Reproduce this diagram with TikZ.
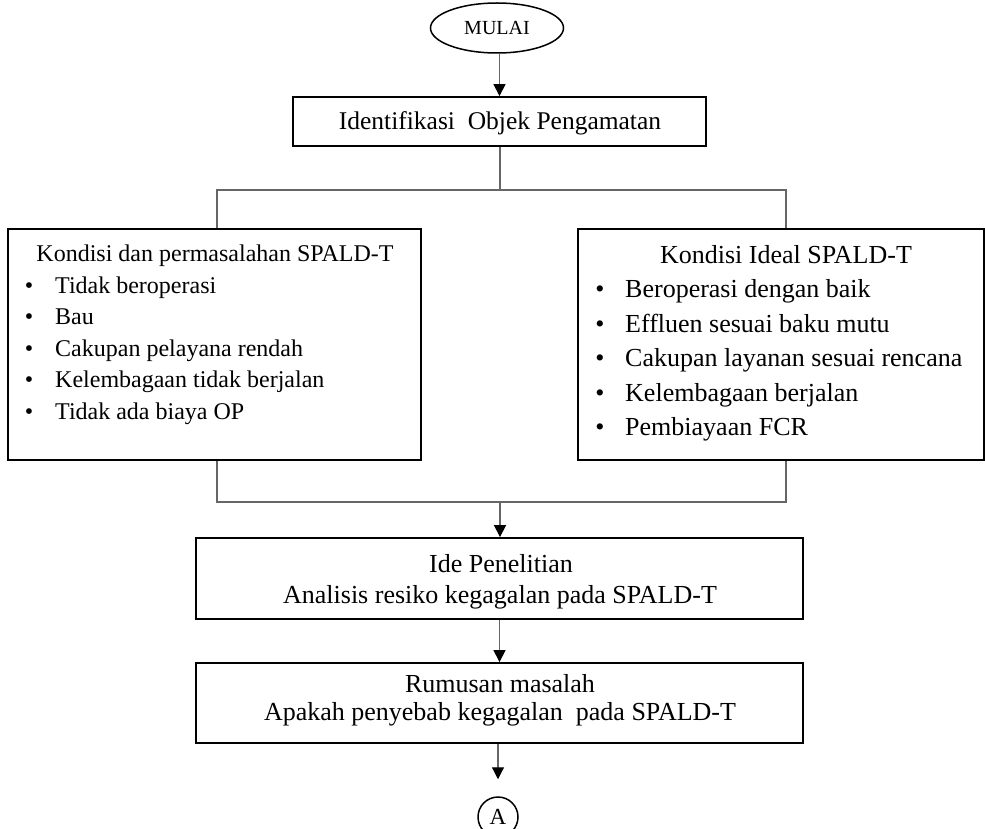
\documentclass[tikz,border=0pt]{standalone}
\usepackage{fontspec}
\setmainfont{Liberation Serif}
\usetikzlibrary{shapes.geometric,arrows.meta}
\newcommand\fsz[2]{\fontsize{#1}{#2}\selectfont}
\tikzset{
  box/.style={draw=black, line width=1.8pt, rectangle, inner sep=0pt},
  conn/.style={draw=black!60, line width=1.2pt},
  arr/.style={conn, -{Triangle[width=12pt,length=12pt,color=black]}},
  txt/.style={inner sep=0pt, anchor=base},
  ltxt/.style={inner sep=0pt, anchor=base west},
}
\begin{document}
\begin{tikzpicture}[x=1pt,y=-1pt]
\useasboundingbox (0,0) rectangle (985,829);

% nodes
\node[ellipse, draw=black, line width=1.5pt, minimum width=133pt, minimum height=50pt, inner sep=0pt, font=\fsz{20}{23}] (mulai) at (497,28) {MULAI};
\node[box, minimum width=413pt, minimum height=49pt] (ident) at (499.5,121.5) {};
\node[txt, font=\fsz{25.5}{30}] (identt) at (500,130) {Identifikasi\ \ Objek Pengamatan};

\node[box, minimum width=413pt, minimum height=231pt] (left) at (214.5,344.5) {};
\node[box, minimum width=406pt, minimum height=231pt] (right) at (781,344.5) {};

\node[box, minimum width=607pt, minimum height=81pt] (ide) at (499.5,578.5) {};
\node[box, minimum width=607pt, minimum height=80pt] (rum) at (499.5,703) {};
\node[circle, draw=black, line width=1.5pt, minimum size=40pt, inner sep=0pt, font=\fsz{23}{26}] (circA) at (498,817) {A};

% left box text
\node[txt, font=\fsz{24}{28}] (lt) at (215,261.5) {Kondisi dan permasalahan SPALD-T};
\foreach \t [count=\i] in {Tidak beroperasi, Bau, Cakupan pelayana rendah, Kelembagaan tidak berjalan, Tidak ada biaya OP} {
  \node[txt, font=\fsz{24}{28}] (lb\i) at (29, 261.5+31.5*\i) {\textbullet};
  \node[ltxt, font=\fsz{24}{28}] (li\i) at (55, 261.5+31.5*\i) {\t};
}

% right box text
\node[txt, font=\fsz{26}{30}] (rt) at (786,263) {Kondisi Ideal SPALD-T};
\foreach \t [count=\i] in {Beroperasi dengan baik, Effluen sesuai baku mutu, Cakupan layanan sesuai rencana, Kelembagaan berjalan, Pembiayaan FCR} {
  \node[txt, font=\fsz{26}{30}] (rb\i) at (600, 263+34.5*\i) {\textbullet};
  \node[ltxt, font=\fsz{26}{30}] (ri\i) at (625, 263+34.5*\i) {\t};
}

% ide text
\node[txt, font=\fsz{26}{30}] (ide1) at (501,572) {Ide Penelitian};
\node[txt, font=\fsz{26}{30}] (ide2) at (500,603) {Analisis resiko kegagalan pada SPALD-T};

% rumusan text
\node[txt, font=\fsz{26}{30}] (rum1) at (500,692) {Rumusan masalah};
\node[txt, font=\fsz{26}{30}] (rum2) at (500,720) {Apakah penyebab kegagalan\ \ pada SPALD-T};

% connectors
\draw[arr] (ident.north |- mulai.south) -- (ident.north);

\coordinate (split) at (500,190);
\coordinate (sl) at (217,190);
\coordinate (sr) at (786,190);
\draw[conn] (ident.south -| split) -- (split);
\draw[conn] (sl |- left.north) -- (sl) -- (sr) -- (sr |- right.north);

\coordinate (ml) at (217,502);
\coordinate (mr) at (786,502);
\coordinate (merge) at (500,502);
\draw[conn] (ml |- left.south) -- (ml) -- (mr) -- (mr |- right.south);
\draw[arr] (merge) -- (merge |- ide.north);

\draw[arr] (ide.south) -- (rum.north);
\draw[arr, shorten >=17pt] (rum.south -| circA.north) -- (circA.north);
\end{tikzpicture}
\end{document}
